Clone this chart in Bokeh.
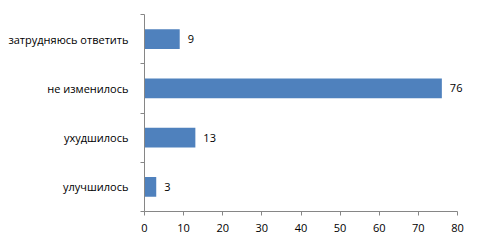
from bokeh.plotting import figure
from bokeh.models import FixedTicker, ColumnDataSource, LabelSet
from bokeh.core.properties import value
from bokeh.embed import file_html
from bokeh.resources import INLINE

categories = ["улучшилось", "ухудшилось", "не изменилось", "затрудняюсь ответить"]
values = [3, 13, 76, 9]
x_ticks = [0, 10, 20, 30, 40, 50, 60, 70, 80]

pos = [i + 0.5 for i in range(len(categories))]
src = ColumnDataSource(dict(y=pos, v=values, lab=[str(v) for v in values]))

FONT = "Open Sans"
# frame spans 144..477 px; axis 0..80 occupies 144..457 px
x_end = 80 * (477 - 144) / (457 - 144)
p = figure(width=477, height=244, x_range=(0, x_end), y_range=(0, len(categories)),
           output_backend="svg", toolbar_location=None,
           min_border_left=144, min_border_right=0, min_border_top=14, min_border_bottom=33)
p.outline_line_color = None
p.xgrid.visible = False
p.ygrid.visible = False
p.background_fill_color = "white"
p.border_fill_color = "white"

p.hbar(y="y", right="v", left=0, height=0.4, source=src, fill_color="#4F81BD", line_color=None)
labels = LabelSet(x="v", y="y", text="lab", source=src, x_offset=8, text_align="left",
                  text_baseline="middle", text_font_size=value("11px"), text_color=value("#000000"),
                  text_font=value(FONT), level="overlay")
p.add_layout(labels)

ya = p.yaxis[0]
ya.ticker = FixedTicker(ticks=pos, minor_ticks=list(range(len(categories) + 1)))
ya.major_label_overrides = {p_: c for p_, c in zip(pos, categories)}
ya.major_tick_out = 0
ya.major_tick_in = 0
ya.minor_tick_out = 4
ya.minor_tick_in = 0
ya.axis_line_color = "#868686"
ya.minor_tick_line_color = "#868686"
ya.major_label_standoff = 12
ya.major_label_text_font = FONT
ya.major_label_text_font_size = "11px"
ya.major_label_text_color = "#000000"

xa = p.xaxis[0]
xa.ticker = FixedTicker(ticks=x_ticks, minor_ticks=[])
xa.bounds = (0, 80)
xa.major_tick_out = 4
xa.major_tick_in = 0
xa.minor_tick_out = 0
xa.minor_tick_in = 0
xa.axis_line_color = "#868686"
xa.major_tick_line_color = "#868686"
xa.major_label_standoff = 8
xa.major_label_text_font = FONT
xa.major_label_text_font_size = "11px"
xa.major_label_text_color = "#000000"

open("out.html", "w").write(file_html(p, INLINE))
